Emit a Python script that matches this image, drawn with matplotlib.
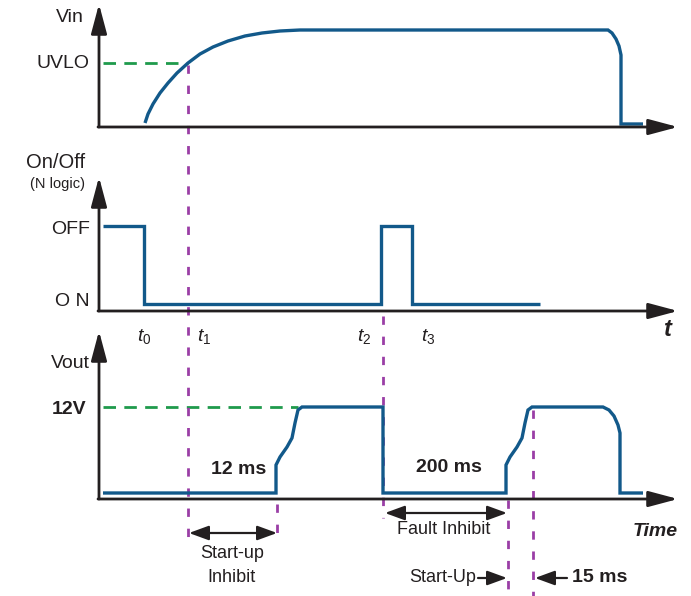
import matplotlib
matplotlib.use("Agg")
import matplotlib.pyplot as plt

plt.rcParams['font.family'] = ['Liberation Sans', 'DejaVu Sans']
plt.rcParams['mathtext.fontset'] = 'custom'
plt.rcParams['mathtext.rm'] = 'Liberation Sans'
plt.rcParams['mathtext.it'] = 'Liberation Sans:italic'
plt.rcParams['lines.scale_dashes'] = False

# waveform samples: time (x) and level (screen units, smaller = higher)
vin_t = [145, 148, 153, 160, 168, 177, 188, 200, 213, 228, 245, 262, 280, 300,
         608, 612, 616, 619, 621, 621, 643]
vin_v = [123, 114, 104, 93, 83, 73, 63, 54, 47, 41, 36, 33, 31, 30,
         30, 33, 39, 46, 55, 124, 124]

onoff_t = [103, 144, 144, 381, 381, 412, 412, 540]
onoff_v = [226, 226, 304, 304, 226, 226, 304, 304]

vout_t = [103, 276, 276, 280, 287, 292, 295, 298, 302, 383, 383,
          506, 506, 510, 517, 522, 525, 528, 532, 603, 609, 614, 618, 620, 620, 643]
vout_v = [493, 493, 465, 457, 447, 438, 423, 410, 407, 407, 493,
          493, 465, 457, 447, 438, 423, 410, 407, 407, 410, 416, 425, 433, 493, 493]

uvlo_level = 63
v12_level = 407
t_names = ['0', '1', '2', '3']
t_label_x = [144, 204, 364, 428]

BLUE = '#12598a'
GREEN = '#1f9a4c'
PURPLE = '#9a3ea6'
INK = '#231f20'

fig = plt.figure(figsize=(6.91, 5.96), dpi=100)
ax = fig.add_axes([0, 0, 1, 1])
ax.set_xlim(0, 691)
ax.set_ylim(596, 0)
ax.axis('off')

big = dict(arrowstyle='-|>,head_length=0.45,head_width=0.12', mutation_scale=40,
           lw=2.0, color=INK, shrinkA=0, shrinkB=0)

# axes of the three panels
for base, top in [(127, 4), (311, 177), (499, 331)]:
    ax.annotate('', xy=(99, top), xytext=(99, base), arrowprops=big)
    ax.annotate('', xy=(678, base), xytext=(98, base), arrowprops=big)

# reference levels
ax.plot([103, 188], [uvlo_level, uvlo_level], color=GREEN, lw=2.0, dashes=(9, 6))
ax.plot([103, 298], [v12_level, v12_level], color=GREEN, lw=2.0, dashes=(9, 6))

# event markers
pdash = dict(color=PURPLE, lw=2.0, dashes=(6, 8.5))
ax.plot([188, 188], [65, 545], **pdash)
ax.plot([383, 383], [316, 518], **pdash)
ax.plot([277, 277], [504, 534], **pdash)
ax.plot([508, 508], [500, 596], **pdash)
ax.plot([533, 533], [410, 596], **pdash)

# waveforms
wf = dict(color=BLUE, lw=2.4, solid_joinstyle='miter', solid_capstyle='butt')
ax.plot(vin_t, vin_v, **wf)
ax.plot(onoff_t, onoff_v, **wf)
ax.plot(vout_t, vout_v, **wf)

# labels
lab = dict(fontsize=14, color=INK, va='center')
ax.text(84, 17, 'Vin', ha='right', **lab)
ax.text(90, 64, 'UVLO', ha='right', **lab)
ax.text(85, 163, 'On/Off', ha='right', fontsize=14.5, color=INK, va='center')
ax.text(85, 184, '(N logic)', ha='right', fontsize=10.5, color=INK, va='center')
ax.text(90, 230, 'OFF', ha='right', **lab)
ax.text(90, 301, 'O N', ha='right', **lab)
ax.text(90, 363, 'Vout', ha='right', **lab)
ax.text(86, 410, '12V', ha='right', fontweight='bold', **lab)

for name, x in zip(t_names, t_label_x):
    ax.text(x, 336, '$t_{\\mathit{' + name + '}}$', ha='center',
            va='center', fontsize=14, color=INK)
ax.text(668, 330, 't', ha='center', va='center', fontsize=17,
        fontweight='bold', style='italic', color=INK)
ax.text(678, 532, 'Time', ha='right', va='center', fontsize=14,
        fontweight='bold', style='italic', color=INK)

ax.text(239, 469, '12 ms', ha='center', fontweight='bold', **lab)
ax.text(449, 468, '200 ms', ha='center', fontweight='bold', **lab)

small = dict(arrowstyle='<|-|>,head_length=0.6,head_width=0.22', mutation_scale=20,
             lw=1.6, color=INK, shrinkA=0, shrinkB=0)
single = dict(arrowstyle='-|>,head_length=0.6,head_width=0.22', mutation_scale=20,
              lw=1.6, color=INK, shrinkA=0, shrinkB=0)
ax.annotate('', xy=(277, 533), xytext=(189, 533), arrowprops=small)
ax.annotate('', xy=(507, 513), xytext=(385, 513), arrowprops=small)
ax.annotate('', xy=(507, 578), xytext=(478, 578), arrowprops=single)
ax.annotate('', xy=(535, 578), xytext=(567, 578), arrowprops=single)

txt = dict(fontsize=13, color=INK, va='center')
ax.text(232, 554, 'Start-up', ha='center', **txt)
ax.text(232, 578, 'Inhibit', ha='center', **txt)
ax.text(444, 530, 'Fault Inhibit', ha='center', **txt)
ax.text(476, 578, 'Start-Up', ha='right', **txt)
ax.text(572, 578, '15 ms', ha='left', fontweight='bold', **lab)

fig.savefig('out.png', dpi=100)
